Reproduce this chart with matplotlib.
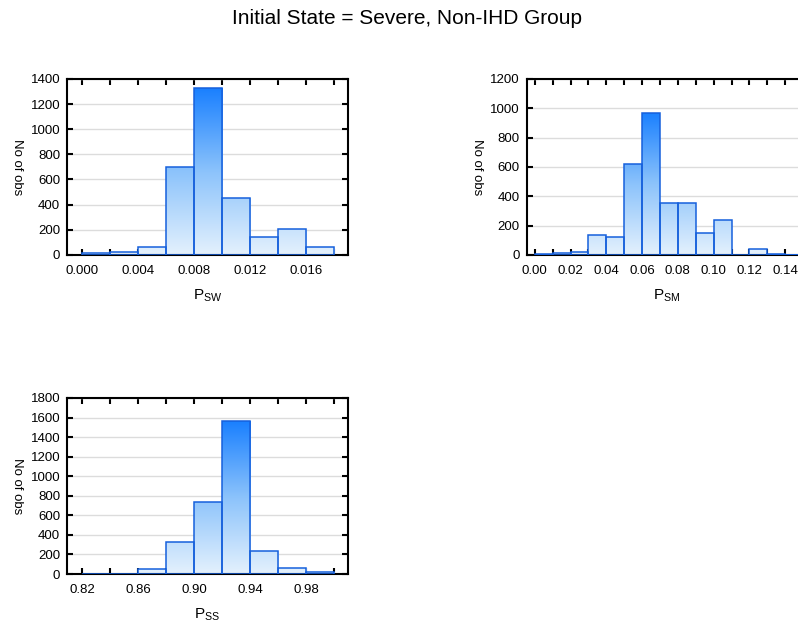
import numpy as np
import matplotlib
matplotlib.use('Agg')
import matplotlib.pyplot as plt
from matplotlib.colors import LinearSegmentedColormap
from matplotlib.ticker import MultipleLocator, FormatStrFormatter

plt.rcParams['font.family'] = ['Liberation Sans', 'DejaVu Sans']
plt.rcParams['mathtext.fontset'] = 'custom'
plt.rcParams['mathtext.rm'] = 'Liberation Sans'
plt.rcParams['mathtext.it'] = 'Liberation Sans'

# histogram data: bin start, bin width, counts per bin
psw_start, psw_width = 0.0, 0.002
psw_counts = [18, 27, 66, 703, 1326, 451, 146, 204, 66]

psm_start, psm_width = 0.0, 0.01
psm_counts = [3, 10, 17, 136, 120, 620, 970, 357, 352, 148, 236, 0, 39, 3, 2]

pss_start, pss_width = 0.82, 0.02
pss_counts = [0, 0, 55, 328, 734, 1561, 232, 65, 17]

grad = LinearSegmentedColormap.from_list('bars', ['#e4f1fd', '#8cc3fb', '#1a80ff'])
edge_col = '#1660dc'


def histo(ax, start, width, counts, xlim, ymax, xmajor, fmt, xlabel):
    counts = np.array(counts, dtype=float)
    lefts = start + width * np.arange(len(counts))
    top = counts.max()
    gimg = np.linspace(0, 1, 256).reshape(-1, 1)
    for x0, c in zip(lefts, counts):
        rect = ax.bar(x0, c, width=width, align='edge', facecolor='none',
                      edgecolor=edge_col, linewidth=1.1, zorder=3)[0]
        im = ax.imshow(gimg, cmap=grad, origin='lower', aspect='auto',
                       extent=(x0, x0 + width, 0, top), zorder=2,
                       interpolation='bilinear')
        im.set_clip_path(rect)
    ax.set_xlim(*xlim)
    ax.set_ylim(0, ymax)
    ax.yaxis.set_major_locator(MultipleLocator(200))
    # major ticks start at the first bin edge
    ax.xaxis.set_major_locator(MultipleLocator(xmajor, offset=start % xmajor))
    ax.xaxis.set_minor_locator(MultipleLocator(xmajor / 2, offset=start % (xmajor / 2)))
    ax.xaxis.set_major_formatter(FormatStrFormatter(fmt))
    ax.grid(axis='y', color='#dcdcdc', linewidth=1, zorder=0)
    ax.set_axisbelow(True)
    ax.tick_params(which='both', direction='in', top=True, right=True,
                   length=4, width=1.5, color='black', labelsize=9.5)
    ax.tick_params(axis='x', which='both', pad=7)
    ax.tick_params(axis='y', pad=5)
    for s in ax.spines.values():
        s.set_linewidth(1.5)
    ax.set_ylabel('No of obs', rotation=270, fontsize=9.5, labelpad=14)
    ax.set_xlabel(xlabel, fontsize=11, labelpad=8)


fig = plt.figure(figsize=(7.98, 6.31), dpi=100)
fig.text(0.51, 0.970, 'Initial State = Severe, Non-IHD Group', ha='center',
         va='center', fontsize=15)

ax1 = fig.add_axes([0.084, 0.596, 0.352, 0.279])
histo(ax1, psw_start, psw_width, psw_counts, (-0.00107, 0.01896), 1400,
      0.004, '%.3f', r'P$_{\rm SW}$')

ax2 = fig.add_axes([0.660, 0.596, 0.352, 0.279])
histo(ax2, psm_start, psm_width, psm_counts, (-0.0045, 0.1525), 1200,
      0.02, '%.2f', r'P$_{\rm SM}$')

ax3 = fig.add_axes([0.084, 0.0903, 0.352, 0.279])
histo(ax3, pss_start, pss_width, pss_counts, (0.8093, 1.0096), 1800,
      0.04, '%.2f', r'P$_{\rm SS}$')

fig.savefig('out.png', dpi=100)
